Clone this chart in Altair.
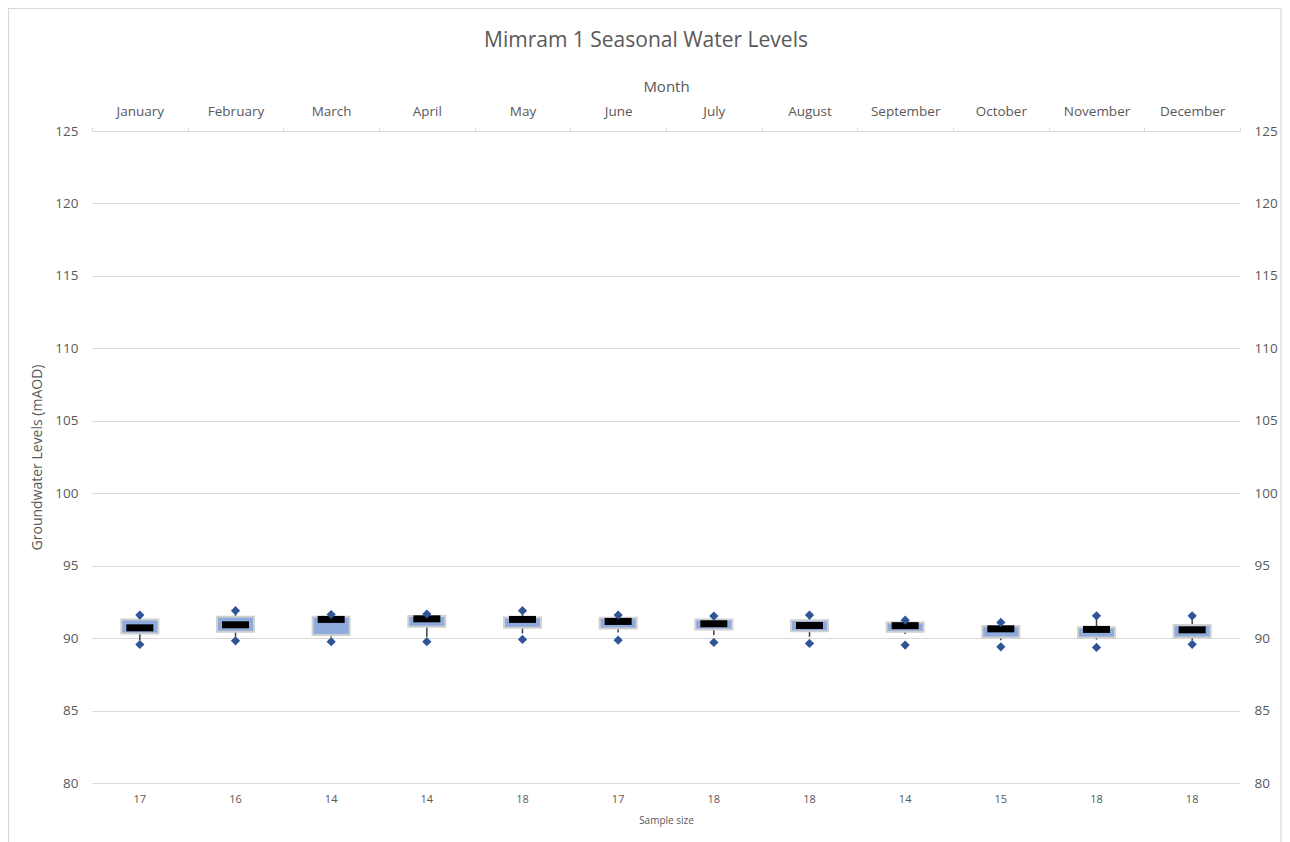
import altair as alt
import pandas as pd

months = ["January", "February", "March", "April", "May", "June",
          "July", "August", "September", "October", "November", "December"]
sample_size = [17, 16, 14, 14, 18, 17, 18, 18, 14, 15, 18, 18]
q1 = [90.32, 90.44, 90.21, 90.78, 90.71, 90.67, 90.60, 90.48, 90.44, 90.05, 90.05, 90.05]
median = [90.71, 90.92, 91.29, 91.33, 91.29, 91.15, 90.99, 90.87, 90.86, 90.64, 90.60, 90.57]
q3 = [91.29, 91.47, 91.47, 91.52, 91.43, 91.40, 91.29, 91.24, 91.08, 90.83, 90.74, 90.90]
whisker_low = [89.86, 90.09, 90.10, 90.09, 90.32, 90.39, 90.20, 90.09, 90.28, 89.86, 89.90, 89.86]
whisker_high = [91.55, 91.85, 91.60, 91.62, 91.85, 91.55, 91.48, 91.55, 91.20, 91.05, 91.50, 91.50]
minimum = [89.56, 89.81, 89.75, 89.75, 89.91, 89.86, 89.70, 89.63, 89.52, 89.40, 89.36, 89.57]
maximum = [91.59, 91.89, 91.63, 91.66, 91.89, 91.59, 91.52, 91.59, 91.24, 91.08, 91.54, 91.54]
y_ticks = [80, 85, 90, 95, 100, 105, 110, 115, 120, 125]

df = pd.DataFrame({
    "Month": months, "n": sample_size, "q1": q1, "median": median, "q3": q3,
    "wlo": whisker_low, "whi": whisker_high, "min": minimum, "max": maximum,
})

FONT = "Open Sans"
GREY = "#595959"
GRID = "#d9d9d9"

xscale = alt.Scale(paddingInner=0, paddingOuter=0)
yscale = alt.Scale(domain=[80, 125], nice=False, zero=False)

label_expr = ("[" + ",".join(f"'{s}'" for s in sample_size) + "][indexof(["
              + ",".join(f"'{m}'" for m in months) + "], datum.value)]")

x_top = alt.X("Month:N", sort=months, scale=xscale,
              axis=alt.Axis(orient="top", title="Month", labelAngle=0, domain=True,
                            domainColor=GRID, ticks=True, tickBand="extent", tickColor=GRID,
                            tickSize=4, labelPadding=9, titlePadding=10, labelFontSize=13.5,
                            titleFontSize=15, labelColor=GREY, titleColor=GREY,
                            titleFontWeight="normal", grid=False))
x_bottom = alt.X("Month:N", sort=months, scale=xscale,
                 axis=alt.Axis(orient="bottom", title="Sample size", labelAngle=0,
                               labelExpr=label_expr, domain=False, ticks=False,
                               labelPadding=10, titlePadding=11, labelFontSize=11,
                               titleFontSize=10, labelColor=GREY, titleColor=GREY,
                               titleFontWeight="normal", grid=False))
x_none = alt.X("Month:N", sort=months, scale=xscale, axis=None)

whisker = alt.Chart(df).mark_rule(color="#404040", strokeWidth=1.5).encode(
    x=x_top,
    y=alt.Y("wlo:Q", scale=yscale,
            axis=alt.Axis(orient="left", values=y_ticks, grid=True, gridColor=GRID,
                          domain=False, ticks=False, labelPadding=14,
                          title="Groundwater Levels (mAOD)", titlePadding=10,
                          labelFontSize=13.5, titleFontSize=14, labelColor=GREY,
                          titleColor=GREY, titleFontWeight="normal")),
    y2="whi:Q",
)

box = alt.Chart(df).mark_bar(size=37, color="#8FAADC", stroke="#D0D0D0", strokeWidth=2).encode(
    x=x_bottom,
    y=alt.Y("q1:Q", scale=yscale,
            axis=alt.Axis(orient="right", values=y_ticks, grid=False, domain=False,
                          ticks=False, labelPadding=14, title=None, labelFontSize=13.5,
                          labelColor=GREY)),
    y2="q3:Q",
)

med = alt.Chart(df).mark_tick(color="black", thickness=7, size=27, opacity=1).encode(
    x=x_none, y=alt.Y("median:Q", scale=yscale, axis=None))

pmin = alt.Chart(df).mark_point(shape="diamond", filled=True, size=85, color="#2F5597",
                                opacity=1).encode(
    x=x_none, y=alt.Y("min:Q", scale=yscale, axis=None))
pmax = alt.Chart(df).mark_point(shape="diamond", filled=True, size=85, color="#2F5597",
                                opacity=1).encode(
    x=x_none, y=alt.Y("max:Q", scale=yscale, axis=None))

# light grey frame around the whole chart area (decoration)
frame = alt.Chart(pd.DataFrame({"k": [0]})).mark_rect(
    fill=None, stroke=GRID, strokeWidth=1.2
).encode(x=alt.value(-83.5), x2=alt.value(1189), y=alt.value(-122.5), y2=alt.value(760))

chart = alt.layer(frame, whisker, box, med, pmin, pmax).resolve_axis(
    x="independent", y="independent"
).properties(
    width=1148, height=652,
    autosize=alt.AutoSizeParams(type="none"),
    padding={"left": 84, "top": 123, "right": 42, "bottom": 59},
    title=alt.TitleParams("Mimram 1 Seasonal Water Levels", fontSize=21, font=FONT,
                          fontWeight="normal", color=GREY, anchor="middle",
                          frame="group", offset=-43, dx=-20),
).configure_view(stroke=None).configure_axis(labelFont=FONT, titleFont=FONT)

chart.save("out.html", embed_options={"renderer": "svg", "actions": False})
